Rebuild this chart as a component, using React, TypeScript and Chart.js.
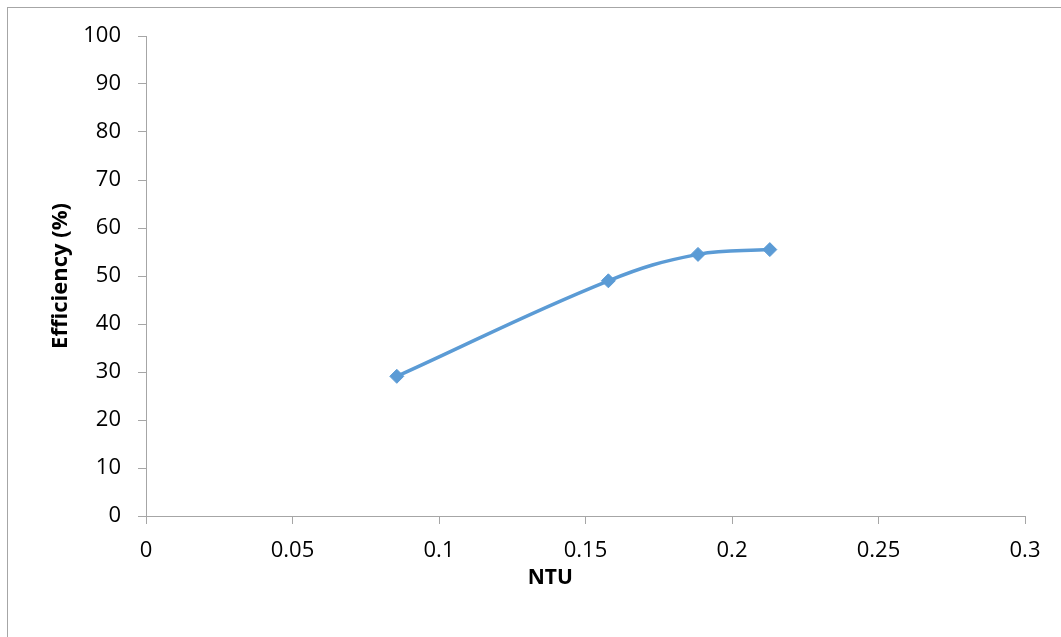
import React, { useEffect, useRef } from "react";
import { Chart, registerables } from "chart.js";

Chart.register(...registerables);

const ntu = [0.0856, 0.1578, 0.1884, 0.2129];
const efficiency = [29.1, 49.0, 54.5, 55.5];
const xTickValues = [0, 0.05, 0.1, 0.15, 0.2, 0.25, 0.3];
const xTickLabels = ["0", "0.05", "0.1", "0.15", "0.2", "0.25", "0.3"];
const yTickValues = [0, 10, 20, 30, 40, 50, 60, 70, 80, 90, 100];
const xTitle = "NTU";
const yTitle = "Efficiency (%)";

const FONT = "'Open Sans', 'Liberation Sans', sans-serif";
const AXIS = "#a6a6a6";

export default function App() {
  const ref = useRef<HTMLCanvasElement | null>(null);

  useEffect(() => {
    if (!ref.current) return;
    const xTitlePlugin = {
      id: "xTitlePlugin",
      afterDraw(chart: any) {
        const { ctx, chartArea } = chart;
        ctx.save();
        ctx.font = `bold 21px ${FONT}`;
        ctx.fillStyle = "#000";
        ctx.textAlign = "center";
        ctx.textBaseline = "alphabetic";
        const x = chartArea.left + 0.46 * (chartArea.right - chartArea.left);
        ctx.fillText(xTitle, x, chartArea.bottom + 68);
        ctx.restore();
      },
    };
    const chart = new Chart(ref.current, {
      type: "line",
      data: {
        datasets: [
          {
            data: ntu.map((x, i) => ({ x, y: efficiency[i] })),
            borderColor: "#5B9BD5",
            backgroundColor: "#5B9BD5",
            borderWidth: 3.5,
            pointStyle: "rectRot",
            pointRadius: 7,
            pointBorderWidth: 1,
            pointBackgroundColor: "#5B9BD5",
            pointBorderColor: "#5B9BD5",
            tension: 0.4,
            fill: false,
          },
        ],
      },
      options: {
        responsive: false,
        animation: false,
        layout: { padding: { top: 36, right: 36, left: 0, bottom: 0 } },
        plugins: { legend: { display: false }, tooltip: { enabled: false } },
        scales: {
          x: {
            type: "linear",
            min: 0,
            max: 0.3,
            afterBuildTicks: (scale: any) => {
              scale.ticks = xTickValues.map((v) => ({ value: v }));
            },
            afterFit: (scale: any) => {
              scale.height = 121;
            },
            grid: { drawOnChartArea: false, drawTicks: true, tickLength: 8, color: AXIS, lineWidth: 1 },
            border: { color: AXIS, width: 1 },
            ticks: {
              padding: 14,
              color: "#000",
              font: { family: FONT, size: 22 },
              maxRotation: 0,
              callback: (_v: any, i: number) => xTickLabels[i],
            },
            title: { display: false },
          },
          y: {
            type: "linear",
            min: 0,
            max: 100,
            afterBuildTicks: (scale: any) => {
              scale.ticks = yTickValues.map((v) => ({ value: v }));
            },
            afterFit: (scale: any) => {
              scale.width = 146;
            },
            grid: { drawOnChartArea: false, drawTicks: true, tickLength: 8, color: AXIS, lineWidth: 1 },
            border: { color: AXIS, width: 1 },
            ticks: {
              padding: 17,
              color: "#000",
              font: { family: FONT, size: 22 },
              callback: (v: any) => String(v),
            },
            title: {
              display: true,
              text: yTitle,
              color: "#000",
              font: { family: FONT, size: 22, weight: "bold" },
              padding: { top: 48, bottom: 0 },
            },
          },
        },
      },
      plugins: [xTitlePlugin],
    });
    return () => chart.destroy();
  }, []);

  return (
    <div
      style={{
        position: "fixed",
        left: 0,
        top: 0,
        width: 1061,
        height: 637,
        overflow: "hidden",
        background: "#fff",
      }}
    >
      <div
        style={{
          position: "absolute",
          left: 7,
          top: 7,
          width: 1100,
          height: 700,
          border: "1px solid #a6a6a6",
        }}
      />
      <canvas ref={ref} width={1061} height={637} style={{ position: "absolute", left: 0, top: 0 }} />
    </div>
  );
}
